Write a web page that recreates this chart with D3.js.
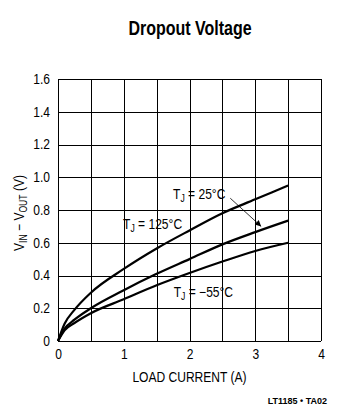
<!DOCTYPE html>
<html>
<head>
<meta charset="utf-8">
<script src="https://cdn.jsdelivr.net/npm/d3@7"></script>
<style>
  body { margin: 0; background: #fff; }
  text { font-family: "Liberation Sans", Arial, sans-serif; }
</style>
</head>
<body>
<div id="chart"></div>
<script>
// data
const current = [0, 0.1, 0.25, 0.5, 1, 1.5, 2, 2.5, 3, 3.5];
const v125 = [0, 0.105, 0.19, 0.295, 0.44, 0.565, 0.675, 0.78, 0.865, 0.95];
const v25 = [0, 0.075, 0.13, 0.20, 0.31, 0.41, 0.50, 0.59, 0.665, 0.735];
const vm55 = [0, 0.065, 0.11, 0.17, 0.255, 0.34, 0.415, 0.485, 0.55, 0.60];
const xTicks = [0, 1, 2, 3, 4];
const yTicks = [0, 0.2, 0.4, 0.6, 0.8, 1.0, 1.2, 1.4, 1.6];
const yTickLabels = ["0", "0.2", "0.4", "0.6", "0.8", "1.0", "1.2", "1.4", "1.6"];

const w = 353, h = 417;
const margin = { top: 79, right: 32, bottom: 76, left: 58 };

const svg = d3.select("#chart").append("svg")
    .attr("width", w)
    .attr("height", h);

// squeeze text horizontally, the reference uses a narrow face
function narrow(sel, f) {
    sel.each(function () {
        const len = this.getComputedTextLength();
        d3.select(this).attr("textLength", len * f).attr("lengthAdjust", "spacingAndGlyphs");
    });
}

// SCALES
const x = d3.scaleLinear().domain([0, 4]).range([margin.left, w - margin.right]);
const y = d3.scaleLinear().domain([0, 1.6]).range([h - margin.bottom, margin.top]);

// GRID
const grid = svg.append("g").attr("stroke", "#000").attr("stroke-width", 1);
grid.selectAll(".vx").data(d3.range(0, 4.01, 0.5)).enter().append("line")
    .attr("x1", d => Math.round(x(d)) + 0.5).attr("x2", d => Math.round(x(d)) + 0.5)
    .attr("y1", y(0)).attr("y2", y(1.6));
grid.selectAll(".hy").data(yTicks).enter().append("line")
    .attr("y1", d => Math.round(y(d)) + 0.5).attr("y2", d => Math.round(y(d)) + 0.5)
    .attr("x1", x(0)).attr("x2", x(4));

// AXES (labels only, grid does the lines)
const xAxis = svg.append("g")
    .attr("transform", "translate(0," + y(0) + ")")
    .call(d3.axisBottom(x).tickValues(xTicks).tickFormat(d3.format("d")).tickSize(0).tickPadding(8));
const yAxis = svg.append("g")
    .attr("transform", "translate(" + x(0) + ",0)")
    .call(d3.axisLeft(y).tickValues(yTicks).tickFormat((d, i) => yTickLabels[i]).tickSize(0).tickPadding(8));
[xAxis, yAxis].forEach(a => {
    a.select(".domain").remove();
    a.selectAll("text").attr("font-size", 14).attr("fill", "#000")
        .attr("font-family", "'Liberation Sans', Arial, sans-serif");
    narrow(a.selectAll("text"), 0.86);
});

// CURVES
const line = d3.line()
    .x((d, i) => x(current[i]))
    .y(d => y(d))
    .curve(d3.curveMonotoneX);

svg.selectAll(".curve").data([v125, v25, vm55]).enter().append("path")
    .attr("class", "curve")
    .attr("d", d => line(d))
    .attr("fill", "none")
    .attr("stroke", "#000")
    .attr("stroke-width", 2.2);

// ARROW from 25C label to middle curve
svg.append("defs").append("marker")
    .attr("id", "ah").attr("viewBox", "0 0 10 10")
    .attr("refX", 10).attr("refY", 5)
    .attr("markerWidth", 10).attr("markerHeight", 6)
    .attr("markerUnits", "userSpaceOnUse")
    .attr("orient", "auto")
    .append("path").attr("d", "M0,0L10,5L0,10z").attr("fill", "#000");

svg.append("line")
    .attr("x1", x(2.62)).attr("y1", y(0.872))
    .attr("x2", x(3.09)).attr("y2", y(0.70))
    .attr("stroke", "#000").attr("stroke-width", 0.8)
    .attr("marker-end", "url(#ah)");

// LABELS
function tjLabel(px, py, temp) {
    const t = svg.append("text").attr("x", px).attr("y", py)
        .attr("font-size", 14).attr("fill", "#000");
    t.append("tspan").text("T");
    t.append("tspan").text("J").attr("font-size", 10).attr("dy", 3);
    t.append("tspan").text(" = " + temp).attr("dy", -3);
    narrow(t, 0.86);
}
tjLabel(x(0.99), y(0.8) + 19, "125°C");
tjLabel(x(1.75), y(0.8) - 11, "25°C");
tjLabel(x(1.76), y(0.2) - 11, "−55°C");

// axis titles
const xl = svg.append("text")
    .attr("x", (x(0) + x(4)) / 2).attr("y", 382)
    .attr("text-anchor", "middle").attr("font-size", 14)
    .text("LOAD CURRENT (A)");
narrow(xl, 0.86);

const yl = svg.append("text")
    .attr("transform", "translate(24," + (y(0.8) + 3) + ") rotate(-90)")
    .attr("text-anchor", "middle").attr("font-size", 14);
yl.append("tspan").text("V");
yl.append("tspan").text("IN").attr("font-size", 10).attr("dy", 3);
yl.append("tspan").text(" − V").attr("dy", -3);
yl.append("tspan").text("OUT").attr("font-size", 10).attr("dy", 3);
yl.append("tspan").text(" (V)").attr("dy", -3);
narrow(yl, 0.86);

// title
const title = svg.append("text")
    .attr("x", 190).attr("y", 35)
    .attr("text-anchor", "middle")
    .attr("font-size", 20).attr("font-weight", "bold")
    .text("Dropout Voltage");
narrow(title, 0.8);

// figure code
svg.append("text")
    .attr("x", 327).attr("y", 404)
    .attr("text-anchor", "end")
    .attr("font-size", 9).attr("font-weight", "bold")
    .text("LT1185 • TA02");
</script>
</body>
</html>
